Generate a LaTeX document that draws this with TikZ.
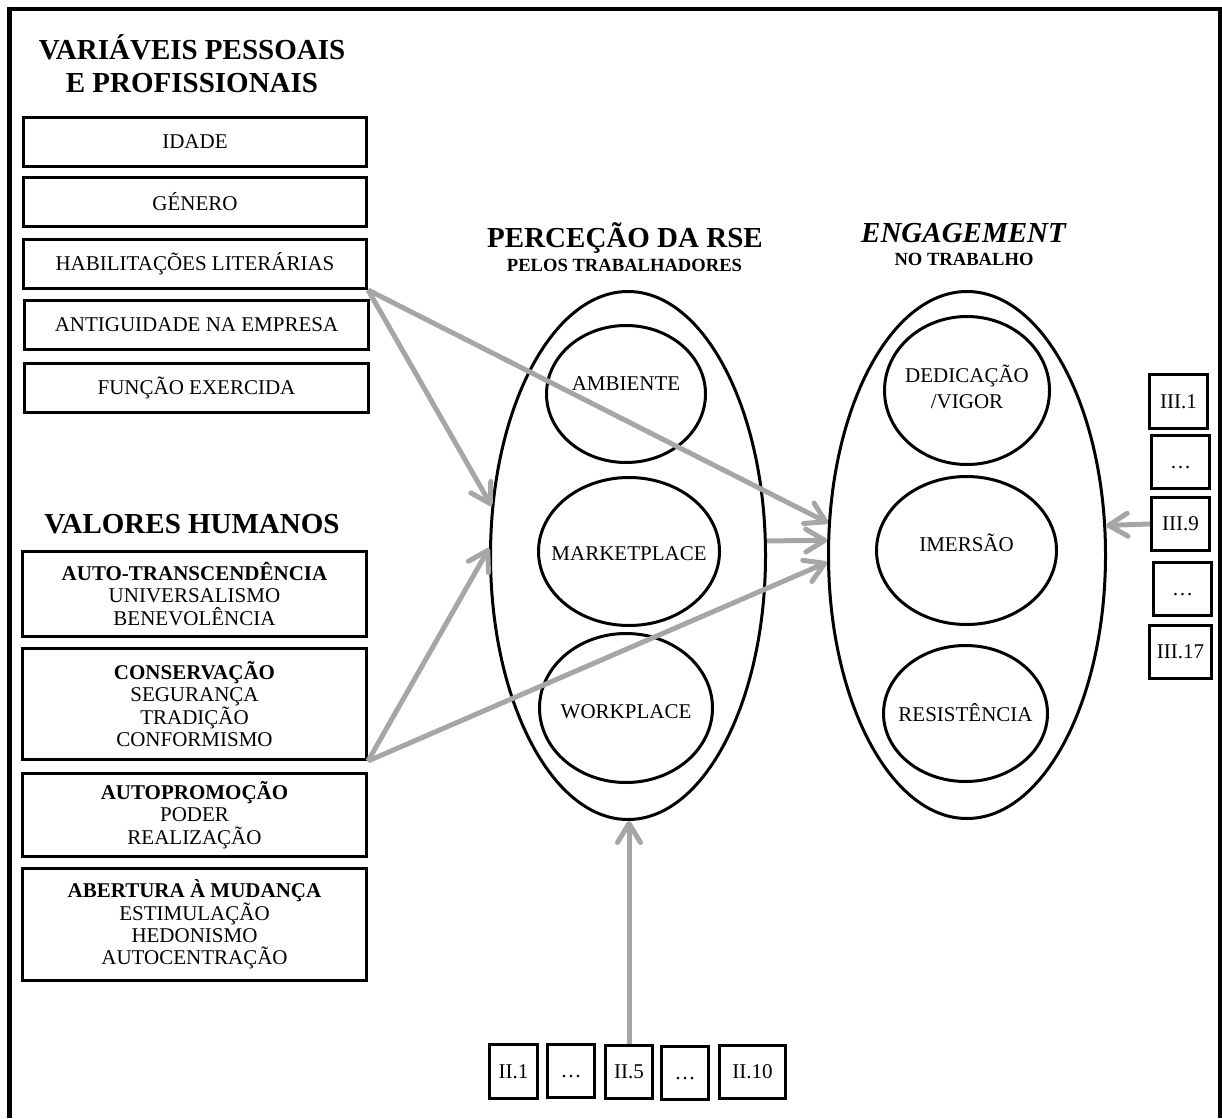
\documentclass[tikz,border=0pt]{standalone}
\usepackage{fontspec}
\setmainfont{Liberation Serif}
\usetikzlibrary{shapes.geometric,arrows.meta,calc}
\definecolor{linkgray}{HTML}{A6A6A6}
\begin{document}
\begin{tikzpicture}[x=1pt,y=-1pt,
  box/.style={draw, line width=3pt, inner sep=0pt, align=center, font=\fontsize{21}{22.3}\selectfont},
  ttl/.style={anchor=base, inner sep=0pt, font=\bfseries\fontsize{29}{34}\selectfont},
  subttl/.style={anchor=base, inner sep=0pt, font=\bfseries\fontsize{18.6}{22}\selectfont},
  oval/.style={draw, ellipse, line width=3pt, inner sep=0pt},
  otxt/.style={font=\fontsize{21}{26}\selectfont, align=center, inner sep=0pt},
  link/.style={draw=linkgray, line width=5pt, -{Straight Barb[length=19pt,width=23pt,line width=5pt,round]}},
]
\useasboundingbox (0,0) rectangle (1222,1118);
% frame (open at the bottom)
\draw[line width=4.5pt] (9.5,1118) -- (9.5,9) -- (1220.5,9) -- (1220.5,1118);

% titles
\node[ttl] (t1a) at (192,60) {VARIÁVEIS PESSOAIS};
\node[ttl] (t1b) at (192,93) {E PROFISSIONAIS};
\node[ttl] (t2) at (192,533) {VALORES HUMANOS};
\node[ttl] (t3) at (625,247) {PERCEÇÃO DA RSE};
\node[subttl] (t3s) at (624.5,271) {PELOS TRABALHADORES};
\node[ttl, font=\bfseries\itshape\fontsize{29}{34}\selectfont] (t4) at (963.5,242) {ENGAGEMENT};
\node[subttl] (t4s) at (964,265) {NO TRABALHO};

% personal variables
\node[box, minimum width=343pt, minimum height=49pt] (idade) at (195,142) {IDADE};
\node[box, minimum width=343pt, minimum height=49pt] (genero) at (195,202) {GÉNERO};
\node[box, minimum width=343pt, minimum height=49pt] (hab) at (195,264) {HABILITAÇÕES LITERÁRIAS};
\node[box, minimum width=344pt, minimum height=49pt] (antig) at (196.5,325) {ANTIGUIDADE NA EMPRESA};
\node[box, minimum width=344pt, minimum height=49pt] (funcao) at (196.5,388) {FUNÇÃO EXERCIDA};

% human values
\node[box, minimum width=344pt, minimum height=85pt] (autot) at (194.5,594)
  {\textbf{AUTO-TRANSCENDÊNCIA}\\UNIVERSALISMO\\BENEVOLÊNCIA};
\node[box, minimum width=344pt, minimum height=111pt] (cons) at (194.5,704)
  {\textbf{CONSERVAÇÃO}\\SEGURANÇA\\TRADIÇÃO\\CONFORMISMO};
\node[box, minimum width=344pt, minimum height=83pt] (autop) at (194.5,815)
  {\textbf{AUTOPROMOÇÃO}\\PODER\\REALIZAÇÃO};
\node[box, minimum width=344pt, minimum height=112pt] (abert) at (194.5,924.5)
  {\textbf{ABERTURA À MUDANÇA}\\ESTIMULAÇÃO\\HEDONISMO\\AUTOCENTRAÇÃO};

% RSE perception
\node[oval, minimum width=275pt, minimum height=528pt] (rse) at (628,555.5) {};
\node[oval, minimum width=159pt, minimum height=137pt, label={[otxt, yshift=10pt]center:AMBIENTE}] (amb) at (626,394) {};
\node[oval, minimum width=181pt, minimum height=148pt, label={[otxt, yshift=-2pt]center:MARKETPLACE}] (mkt) at (629,551.5) {};
\node[oval, minimum width=173pt, minimum height=149pt, label={[otxt, yshift=-4pt]center:WORKPLACE}] (wrk) at (626,708) {};

% engagement
\node[oval, minimum width=277pt, minimum height=527pt] (eng) at (967,555) {};
\node[oval, minimum width=165pt, minimum height=148pt, label={[otxt, yshift=4pt]center:{DEDICAÇÃO\\/VIGOR}}] (ded) at (967,390.5) {};
\node[oval, minimum width=180pt, minimum height=148pt, label={[otxt, yshift=8pt]center:IMERSÃO}] (ime) at (966.5,550.5) {};
\node[oval, minimum width=164pt, minimum height=136pt, label={[otxt, yshift=1pt]center:RESISTÊNCIA}] (res) at (965.5,713.5) {};

% engagement items
\node[box, minimum width=58pt, minimum height=54pt] (iii1) at (1178.5,401.5) {III.1};
\node[box, minimum width=58pt, minimum height=53pt] (iiia) at (1180.5,462) {\vphantom{I}…};
\node[box, minimum width=58pt, minimum height=53pt] (iii9) at (1180.5,524) {III.9};
\node[box, minimum width=58pt, minimum height=53pt] (iiib) at (1182.5,589) {\vphantom{I}…};
\node[box, minimum width=62pt, minimum height=53pt] (iii17) at (1180.5,652) {III.17};

% RSE items
\node[box, minimum width=48pt, minimum height=54pt] (ii1) at (513.5,1071.5) {II.1};
\node[box, minimum width=47pt, minimum height=53pt] (iia) at (571,1071) {\vphantom{I}…};
\node[box, minimum width=47pt, minimum height=53pt] (ii5) at (629,1072) {II.5};
\node[box, minimum width=47pt, minimum height=53pt] (iib) at (685,1073) {\vphantom{I}…};
\node[box, minimum width=66pt, minimum height=53pt] (ii10) at (752.5,1072) {II.10};

% connectors
\draw[link] (hab.south east) -- (rse.160);
\draw[link] (hab.south east) -- (eng.167);
\draw[link] (cons.south east) -- (rse.177);
\draw[link] (cons.south east) -- (eng.183);
\draw[link] (rse.6) -- (eng.174);
\draw[link] (iii9.west) -- (eng.12);
\draw[link] (ii5.north) -- (ii5.north |- rse.south);
\end{tikzpicture}
\end{document}
